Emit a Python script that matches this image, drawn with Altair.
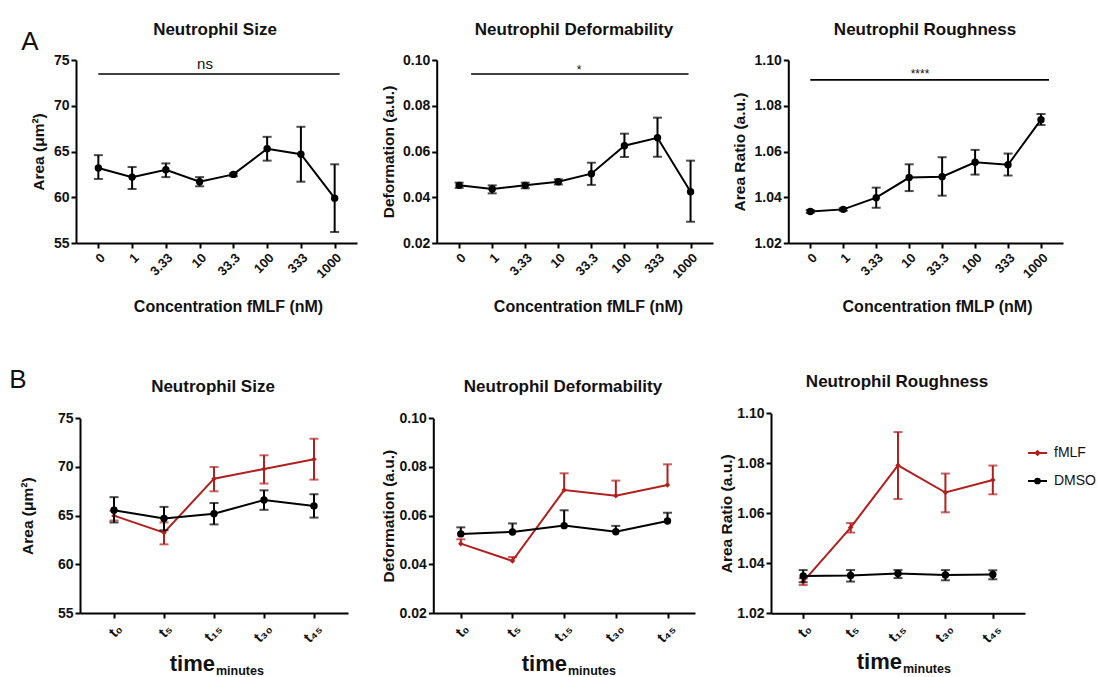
import altair as alt
import pandas as pd

# ---------------- data ----------------
conc = ["0", "1", "3.33", "10", "33.3", "100", "333", "1000"]

size_mean = [63.2, 62.2, 63.0, 61.7, 62.5, 65.3, 64.7, 59.9]
size_hi = [64.6, 63.3, 63.7, 62.2, 62.6, 66.6, 67.7, 63.6]
size_lo = [62.0, 60.9, 62.2, 61.2, 62.3, 64.0, 61.7, 56.2]

deform_mean = [0.0452, 0.0436, 0.0452, 0.0468, 0.0503, 0.0625, 0.0660, 0.0424]
deform_hi = [0.0464, 0.0452, 0.0464, 0.0478, 0.0551, 0.0678, 0.0748, 0.0560]
deform_lo = [0.0441, 0.0417, 0.0439, 0.0456, 0.0454, 0.0576, 0.0577, 0.0293]

rough_mean = [1.0338, 1.0347, 1.0398, 1.0486, 1.0490, 1.0553, 1.0542, 1.0739]
rough_hi = [1.0344, 1.0352, 1.0442, 1.0544, 1.0575, 1.0607, 1.0591, 1.0764]
rough_lo = [1.0332, 1.0341, 1.0354, 1.0427, 1.0407, 1.0499, 1.0495, 1.0716]

times = ["t\u2080", "t\u2085", "t\u2081\u2085", "t\u2083\u2080", "t\u2084\u2085"]

fmlf_size_mean = [65.0, 63.25, 68.8, 69.8, 70.8]
fmlf_size_hi = [65.5, 64.3, 70.0, 71.2, 72.9]
fmlf_size_lo = [64.5, 62.05, 67.5, 68.3, 68.7]
dmso_size_mean = [65.55, 64.7, 65.2, 66.6, 66.0]
dmso_size_hi = [66.9, 65.9, 66.3, 67.6, 67.2]
dmso_size_lo = [64.3, 63.5, 64.1, 65.6, 64.8]

fmlf_def_mean = [0.0485, 0.0414, 0.0705, 0.0682, 0.0726]
fmlf_def_hi = [0.0503, 0.0430, 0.0774, 0.0744, 0.0811]
dmso_def_mean = [0.0525, 0.0533, 0.0559, 0.0534, 0.0578]
dmso_def_hi = [0.0552, 0.0568, 0.0622, 0.0558, 0.0612]

fmlf_rough_mean = [1.0327, 1.0543, 1.0792, 1.0683, 1.0733]
fmlf_rough_hi = [1.0340, 1.0561, 1.0925, 1.0759, 1.0791]
fmlf_rough_lo = [1.0313, 1.0523, 1.0657, 1.0604, 1.0676]
dmso_rough_mean = [1.0349, 1.0351, 1.0359, 1.0353, 1.0355]
dmso_rough_hi = [1.0373, 1.0373, 1.0373, 1.0373, 1.0372]
dmso_rough_lo = [1.0324, 1.0327, 1.0341, 1.0332, 1.0336]

series_names = ["fMLF", "DMSO"]

# significance bars: (label, start category, end category, level)
sig_size = ("ns", "0", "1000", 73.47)
sig_deform = ("*", "0", "1000", 0.0939)
sig_rough = ("****", "0", "1000", 1.0913)

# ---------------- styling / layout ----------------
W, H = 1098, 677
RED = "#b0201e"
BLACK = "#000000"
TXT = "#111111"
FONT = "Liberation Sans"


def frame(cats, mean, lo, hi):
    return pd.DataFrame({"cat": cats, "mean": mean, "lo": lo, "hi": hi})


def panel(p, series, sig=None):
    xscale = alt.Scale(type="point", domain=p["cats"], range=list(p["xr"]), padding=p["pad"])
    yscale = alt.Scale(domain=list(p["ydom"]), range=list(p["yr"]), nice=False, zero=False)
    xaxis_kw = dict(orient="bottom", offset=p["yr"][0] - H, labelAngle=-45,
                    labelFontSize=p["xlab"], labelOverlap=False, labelPadding=3)
    if p.get("xtitle"):
        xaxis_kw.update(title=p["xtitle"], titleX=p["xtx"], titleY=55, titleBaseline="top",
                        titleFontSize=16)
    else:
        xaxis_kw.update(title=None)
    xaxis = alt.Axis(**xaxis_kw)
    yaxis = alt.Axis(orient="left", offset=-p["xr"][0], values=p["yvals"], format=p["fmt"],
                     title=p["ytitle"], titleX=p["ytx"], titleBaseline="middle",
                     titleFontSize=15.5, labelFontSize=14, labelOverlap=False)
    X = alt.X("cat:O", scale=xscale, axis=xaxis, sort=None)

    def Y(field):
        return alt.Y(field + ":Q", scale=yscale, axis=yaxis)

    layers = []
    for df, color, shape, size, lower in series:
        base = alt.Chart(df)
        layers.append(base.mark_line(color=color, strokeWidth=2).encode(x=X, y=Y("mean")))
        layers.append(base.mark_rule(color=color, strokeWidth=2).encode(x=X, y=Y("lo"), y2=alt.Y2("hi")))
        layers.append(base.mark_tick(color=color, thickness=2, size=9, orient="horizontal")
                      .encode(x=X, y=Y("hi")))
        if lower:
            layers.append(base.mark_tick(color=color, thickness=2, size=9, orient="horizontal")
                          .encode(x=X, y=Y("lo")))
        layers.append(base.mark_point(shape=shape, filled=True, size=size, color=color, opacity=1)
                      .encode(x=X, y=Y("mean")))
    if sig is not None:
        label, a, b, lvl = sig
        sdf = pd.DataFrame({"cat": [a], "cat2": [b], "lvl": [lvl]})
        layers.append(alt.Chart(sdf).mark_rule(color=BLACK, strokeWidth=1.6,
                                               xOffset=p["sig_off"][0], x2Offset=p["sig_off"][1])
                      .encode(x=X, x2=alt.X2("cat2"), y=Y("lvl")))
    return alt.layer(*layers)


top_cfg = [
    dict(cats=conc, xr=(76, 357), pad=0.662, yr=(243, 60), ydom=(55, 75), yvals=[55, 60, 65, 70, 75],
         fmt="d", ytitle="Area (\u03bcm\u00b2)", ytx=-37.5, xtitle="Concentration fMLF (nM)", xtx=228,
         xlab=13, sig_off=(0, 5)),
    dict(cats=conc, xr=(436.7, 713), pad=0.679, yr=(243, 60), ydom=(0.02, 0.10),
         yvals=[0.02, 0.04, 0.06, 0.08, 0.10], fmt=".2f", ytitle="Deformation (a.u.)", ytx=-48.5,
         xtitle="Concentration fMLF (nM)", xtx=588, xlab=13, sig_off=(12, -2)),
    dict(cats=conc, xr=(788.3, 1063), pad=0.667, yr=(243, 60), ydom=(1.02, 1.10),
         yvals=[1.02, 1.04, 1.06, 1.08, 1.10], fmt=".2f", ytitle="Area Ratio (a.u.)", ytx=-49.3,
         xtitle="Concentration fMLP (nM)", xtx=937, xlab=13, sig_off=(0, 8)),
]
bot_cfg = [
    dict(cats=times, xr=(80, 348), pad=0.68, yr=(613, 418.3), ydom=(55, 75), yvals=[55, 60, 65, 70, 75],
         fmt="d", ytitle="Area (\u03bcm\u00b2)", ytx=-52.5, xlab=15),
    dict(cats=times, xr=(433.3, 695), pad=0.532, yr=(613, 418.3), ydom=(0.02, 0.10),
         yvals=[0.02, 0.04, 0.06, 0.08, 0.10], fmt=".2f", ytitle="Deformation (a.u.)", ytx=-45, xlab=15),
    dict(cats=times, xr=(771, 1025), pad=0.679, yr=(613.3, 413.3), ydom=(1.02, 1.10),
         yvals=[1.02, 1.04, 1.06, 1.08, 1.10], fmt=".2f", ytitle="Area Ratio (a.u.)", ytx=-45, xlab=15),
]

panels = [
    panel(top_cfg[0], [(frame(conc, size_mean, size_lo, size_hi), BLACK, "circle", 55, True)], sig_size),
    panel(top_cfg[1], [(frame(conc, deform_mean, deform_lo, deform_hi), BLACK, "circle", 55, True)], sig_deform),
    panel(top_cfg[2], [(frame(conc, rough_mean, rough_lo, rough_hi), BLACK, "circle", 55, True)], sig_rough),
    panel(bot_cfg[0], [
        (frame(times, fmlf_size_mean, fmlf_size_lo, fmlf_size_hi), RED, "diamond", 30, True),
        (frame(times, dmso_size_mean, dmso_size_lo, dmso_size_hi), BLACK, "circle", 55, True)]),
    panel(bot_cfg[1], [
        (frame(times, fmlf_def_mean, fmlf_def_mean, fmlf_def_hi), RED, "diamond", 30, False),
        (frame(times, dmso_def_mean, dmso_def_mean, dmso_def_hi), BLACK, "circle", 55, False)]),
    panel(bot_cfg[2], [
        (frame(times, fmlf_rough_mean, fmlf_rough_lo, fmlf_rough_hi), RED, "diamond", 30, True),
        (frame(times, dmso_rough_mean, dmso_rough_lo, dmso_rough_hi), BLACK, "circle", 55, True)]),
]


def pix_text(rows, **mark):
    df = pd.DataFrame(rows, columns=["label", "px", "py"])
    return alt.Chart(df).mark_text(font=FONT, color=TXT, **mark).encode(
        x=alt.X("px:Q", scale=None, axis=None),
        y=alt.Y("py:Q", scale=None, axis=None),
        text="label:N",
    )


titles = pix_text([
    ("Neutrophil Size", 215, 30), ("Neutrophil Deformability", 574, 30), ("Neutrophil Roughness", 925, 30),
    ("Neutrophil Size", 213, 387), ("Neutrophil Deformability", 563, 387), ("Neutrophil Roughness", 897, 382),
], fontSize=17, fontWeight="bold", baseline="middle", align="center")
letters = pix_text([("A", 30, 42), ("B", 18, 380)], fontSize=26, baseline="middle", align="center")
sig_ns = pix_text([(sig_size[0], 205, 64)], fontSize=15, baseline="middle", align="center")
sig_star = pix_text([(sig_deform[0], 579, 70), (sig_rough[0], 920, 74)], fontSize=12,
                    baseline="middle", align="center")
time_main = pix_text([("time", 215, 671), ("time", 567, 671), ("time", 902, 669)],
                     fontSize=22, fontWeight="bold", baseline="alphabetic", align="right")
time_sub = pix_text([("minutes", 216, 675), ("minutes", 568, 675), ("minutes", 903, 673)],
                    fontSize=12.5, fontWeight="bold", baseline="alphabetic", align="left")

# legend (manual, bottom-right panel)
leg = pd.DataFrame({"label": series_names, "row": [0, 1]})
leg["py"] = 453 + leg["row"] * 28
leg_colors = alt.Scale(domain=series_names, range=[RED, BLACK])
leg_shapes = alt.Scale(domain=series_names, range=["diamond", "circle"])
leg_line = alt.Chart(leg).mark_rule(strokeWidth=2).encode(
    x=alt.value(1028), x2=alt.value(1047), y=alt.Y("py:Q", scale=None, axis=None),
    color=alt.Color("label:N", scale=leg_colors, legend=None))
leg_pt = alt.Chart(leg).mark_point(filled=True, opacity=1, size=45).encode(
    x=alt.value(1037.5), y=alt.Y("py:Q", scale=None, axis=None),
    color=alt.Color("label:N", scale=leg_colors, legend=None),
    shape=alt.Shape("label:N", scale=leg_shapes, legend=None))
leg_txt = alt.Chart(leg).mark_text(font=FONT, fontSize=14, color=TXT, align="left", baseline="middle").encode(
    x=alt.value(1054), y=alt.Y("py:Q", scale=None, axis=None), text="label:N")

chart = alt.layer(*panels, titles, letters, sig_ns, sig_star, time_main, time_sub,
                  leg_line, leg_pt, leg_txt).resolve_scale(
    x="independent", y="independent", color="independent", shape="independent"
).properties(
    width=W, height=H, autosize=alt.AutoSizeParams(type="none"), padding=0, background="white"
).configure_view(strokeWidth=0).configure_axis(
    domainColor=BLACK, domainWidth=2, tickColor=BLACK, tickWidth=2, tickSize=5,
    labelFont=FONT, labelFontWeight="bold", labelColor=TXT,
    titleFont=FONT, titleFontWeight="bold", titleColor=TXT, grid=False,
)

chart.save("out.html", embed_options={"renderer": "svg", "actions": False})
